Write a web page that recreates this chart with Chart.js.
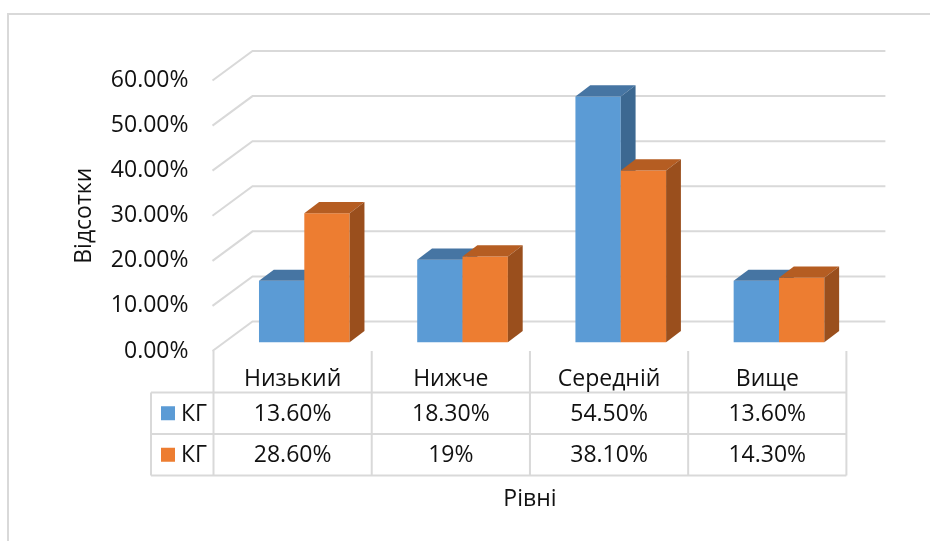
<!DOCTYPE html>
<html>
<head>
<meta charset="utf-8">
<script src="https://cdn.jsdelivr.net/npm/chart.js@4"></script>
<style>
    body { margin: 0; background: #fff; }
</style>
</head>
<body>
<canvas id="levels" width="930" height="541"></canvas>
<script>
var levels = ['Низький', 'Нижче', 'Середній', 'Вище'];
var seriesNames = ['КГ', 'КГ'];
var kg1 = [13.6, 18.3, 54.5, 13.6];
var kg2 = [28.6, 19, 38.1, 14.3];
var yTicks = [0, 10, 20, 30, 40, 50, 60];

var fontName = "'Open Sans', sans-serif";
var fontSize = 23;
var textColor = '#111';
var lineColor = '#d9d9d9';
var faceColors = ['#5b9bd5', '#ed7d31'];
var topColors = ['#4675a3', '#b55d22'];
var sideColors = ['#3c6891', '#9a4f1d'];

// full depth of the floor, and where the bars stand inside it
var wallDx = 39, wallDy = -29.5;
var barFront = 0.3, barDepth = 0.38;

function pct(v) {
    return Number.isInteger(v) ? v + '%' : v.toFixed(2) + '%';
}

function poly(ctx, pts, color) {
    ctx.fillStyle = color;
    ctx.beginPath();
    ctx.moveTo(pts[0][0], pts[0][1]);
    for (var i = 1; i < pts.length; i++) ctx.lineTo(pts[i][0], pts[i][1]);
    ctx.closePath();
    ctx.fill();
}

var box3d = {
    id: 'box3d',
    beforeDraw(chart) {
        var ctx = chart.ctx;
        ctx.save();
        ctx.fillStyle = '#fff';
        ctx.fillRect(0, 0, chart.width, chart.height);
        // outer frame, only left and top edges show
        ctx.strokeStyle = lineColor;
        ctx.lineWidth = 2;
        ctx.beginPath();
        ctx.moveTo(8, chart.height);
        ctx.lineTo(8, 14);
        ctx.lineTo(chart.width, 14);
        ctx.stroke();
        ctx.restore();
    },
    beforeDatasetsDraw(chart) {
        var ctx = chart.ctx, area = chart.chartArea, y = chart.scales.y;
        ctx.save();

        // back wall grid with the slanted side wall lines
        ctx.strokeStyle = lineColor;
        ctx.lineWidth = 2;
        yTicks.forEach(function (t) {
            var py = y.getPixelForValue(t);
            ctx.beginPath();
            ctx.moveTo(area.left - 1, py);
            ctx.lineTo(area.left + wallDx, py + wallDy);
            ctx.lineTo(area.right + wallDx, py + wallDy);
            ctx.stroke();
        });

        // boxes: front, top and right side of every bar
        var fx = wallDx * barFront, fy = wallDy * barFront;
        var dx = wallDx * barDepth, dy = wallDy * barDepth;
        for (var i = 0; i < levels.length; i++) {
            chart.data.datasets.forEach(function (ds, d) {
                var bar = chart.getDatasetMeta(d).data[i];
                var l = bar.x - bar.width / 2 + fx, r = bar.x + bar.width / 2 + fx;
                var t = bar.y + fy, b = bar.base + fy;
                poly(ctx, [[l, t], [r, t], [r, b], [l, b]], ds.backgroundColor);
                poly(ctx, [[l, t], [l + dx, t + dy], [r + dx, t + dy], [r, t]], topColors[d]);
                poly(ctx, [[r, t], [r + dx, t + dy], [r + dx, b + dy], [r, b]], sideColors[d]);
            });
        }
        ctx.restore();
        return false;
    },
    afterDraw(chart) {
        var ctx = chart.ctx, area = chart.chartArea, x = chart.scales.x;
        var colW = x.width / levels.length;
        var legendLeft = 151, rows = [392.5, 434, 475.5];
        ctx.save();

        // data table grid
        ctx.strokeStyle = lineColor;
        ctx.lineWidth = 2;
        ctx.beginPath();
        for (var c = 0; c <= levels.length; c++) {
            var lx = x.left + c * colW;
            ctx.moveTo(lx, area.bottom);
            ctx.lineTo(lx, rows[2]);
        }
        ctx.moveTo(legendLeft, rows[0]);
        ctx.lineTo(legendLeft, rows[2]);
        rows.forEach(function (ry) {
            ctx.moveTo(legendLeft, ry);
            ctx.lineTo(x.right, ry);
        });
        ctx.stroke();

        ctx.fillStyle = textColor;
        ctx.font = fontSize + 'px ' + fontName;
        ctx.textAlign = 'center';
        ctx.textBaseline = 'middle';
        levels.forEach(function (name, i) {
            var cx = x.getPixelForValue(i);
            ctx.fillText(name, cx, 379);
            ctx.fillText(pct(kg1[i]), cx, 414);
            ctx.fillText(pct(kg2[i]), cx, 455.5);
        });

        // legend keys in the first column
        [kg1, kg2].forEach(function (s, d) {
            var ry = (rows[d] + rows[d + 1]) / 2;
            ctx.fillStyle = faceColors[d];
            ctx.fillRect(161, ry - 7, 14, 14);
            ctx.fillStyle = textColor;
            ctx.textAlign = 'left';
            ctx.fillText(seriesNames[d], 181, ry + 1);
        });

        ctx.textAlign = 'center';
        ctx.fillText('Рівні', (x.left + x.right) / 2, 499);
        ctx.restore();
    }
};

new Chart(document.getElementById('levels'), {
    type: 'bar',
    data: {
        labels: levels,
        datasets: [
            { label: seriesNames[0], data: kg1, backgroundColor: faceColors[0] },
            { label: seriesNames[1], data: kg2, backgroundColor: faceColors[1] }
        ]
    },
    options: {
        responsive: false,
        animation: false,
        events: [],
        layout: { padding: { left: 0, top: 80.5, right: 83.6, bottom: 190 } },
        datasets: { bar: { categoryPercentage: 0.573, barPercentage: 1 } },
        plugins: { legend: { display: false }, tooltip: { enabled: false } },
        scales: {
            x: { display: false },
            y: {
                min: 0,
                max: 60,
                ticks: {
                    stepSize: 10,
                    padding: 25,
                    color: textColor,
                    font: { family: fontName, size: fontSize },
                    callback: function (v) { return v.toFixed(2) + '%'; }
                },
                grid: { display: false, drawTicks: false },
                border: { display: false },
                title: {
                    display: true,
                    text: 'Відсотки',
                    color: textColor,
                    font: { family: fontName, size: fontSize },
                    padding: { top: 71, bottom: 0 }
                },
                afterFit: function (scale) { scale.width = 213.5; }
            }
        }
    },
    plugins: [box3d]
});
</script>
</body>
</html>
